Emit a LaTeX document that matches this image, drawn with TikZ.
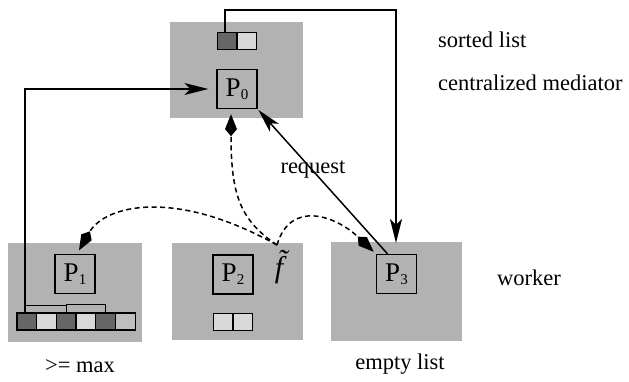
\documentclass[tikz,border=0pt]{standalone}
\usepackage{fontspec}
\setmainfont{Liberation Serif}
\usetikzlibrary{arrows.meta}
\newcommand{\Psub}[1]{P\raisebox{-3pt}{\fontsize{15}{15}\selectfont #1}}
\begin{document}
\begin{tikzpicture}[x=1pt,y=-1pt,
  region/.style={fill=black!30,draw=none},
  pbox/.style={draw,line width=1.3pt,minimum width=40pt,minimum height=39pt,inner sep=0pt,font=\fontsize{27}{30}\selectfont},
  cell/.style={draw,line width=1.3pt,minimum width=19.7pt,minimum height=17pt,inner sep=0pt},
  dk/.style={cell,fill=black!60},
  lt/.style={cell,fill=black!15},
  md/.style={cell,fill=black!25},
  lbl/.style={font=\fontsize{22.5}{27}\selectfont,inner sep=0pt},
  solidarr/.style={line width=1.5pt,-{Stealth[length=24pt,width=12pt,inset=6pt]}},
  dasharr/.style={line width=1.5pt,dash pattern=on 5pt off 3.5pt,-{Kite[length=22pt,width=12pt,inset=7pt]}},
  plain/.style={line width=1.3pt}
]
\useasboundingbox (0,0) rectangle (629,381);
\fill[white] (0,0) rectangle (629,381);
% shaded regions
\fill[region] (170,22) rectangle (303,118);
\fill[region] (8,243) rectangle (142,342);
\fill[region] (172,243) rectangle (303,340);
\fill[region] (331,242) rectangle (462,341);
% processor boxes
\node[pbox] (p0) at (237,89) {\Psub{0}};
\node[pbox] (p1) at (75,274) {\Psub{1}};
\node[pbox] (p2) at (233,274.5) {\Psub{2}};
\node[pbox] (p3) at (396.5,274) {\Psub{3}};
% sorted list at mediator
\node[dk] (s1) at (227,41) {};
\node[lt] (s2) at (246.7,41) {};
% list at P1
\node[dk] (c1) at (26.8,321.5) {};
\node[lt] (c2) at (46.5,321.5) {};
\node[dk] (c3) at (66.2,321.5) {};
\node[lt] (c4) at (85.9,321.5) {};
\node[dk] (c5) at (105.6,321.5) {};
\node[md] (c6) at (125.3,321.5) {};
% empty list at P2
\node[lt] (e1) at (223.2,322) {};
\node[lt] (e2) at (242.9,322) {};
% labels
\node[lbl,anchor=west] (tsorted) at (438,40) {sorted list};
\node[lbl,anchor=west] (tmed) at (438,83) {centralized mediator};
\node[lbl,anchor=west] (twork) at (497,278) {worker};
\node[lbl] (tmax) at (80,366) {>= max};
\node[lbl] (tempty) at (400,364) {empty list};
\node[lbl] (treq) at (313,170) {request};
\node[lbl,font=\fontsize{30}{32}\selectfont] (ftil) at (279,267) {\itshape f^^^^0303};
% coordinates
\coordinate (fs) at (277,245);
\coordinate (topc) at (396,10);
\coordinate (p3top) at (396,243);
% sorted list -> P3
\draw[solidarr] ([xshift=-2pt]s1.north) |- (topc) -- (p3top);
% P1 list -> P0
\draw[solidarr,shorten >=8pt] ([xshift=-2pt]c1.north) |- (p0.west);
\draw[plain] ([shift={(-2,-7)}]c1.north) -| (c3.north);
\draw[plain] ([shift={(0,-8)}]c3.north) -| (c5.north);
% request
\draw[solidarr,shorten >=1pt] ([xshift=-9pt]p3.north) -- (p0.south east);
% dashed transfers
\draw[dasharr,shorten >=5pt] (fs) .. controls (240,220) and (231,195) .. ([xshift=-6pt]p0.south);
\draw[dasharr,shorten >=4pt] (fs) .. controls (175,188) and (105,205) .. ([xshift=2pt]p1.north);
\draw[dasharr,shorten >=3pt] (fs) .. controls (290,200) and (335,215) .. (p3.north west);
\end{tikzpicture}
\end{document}
